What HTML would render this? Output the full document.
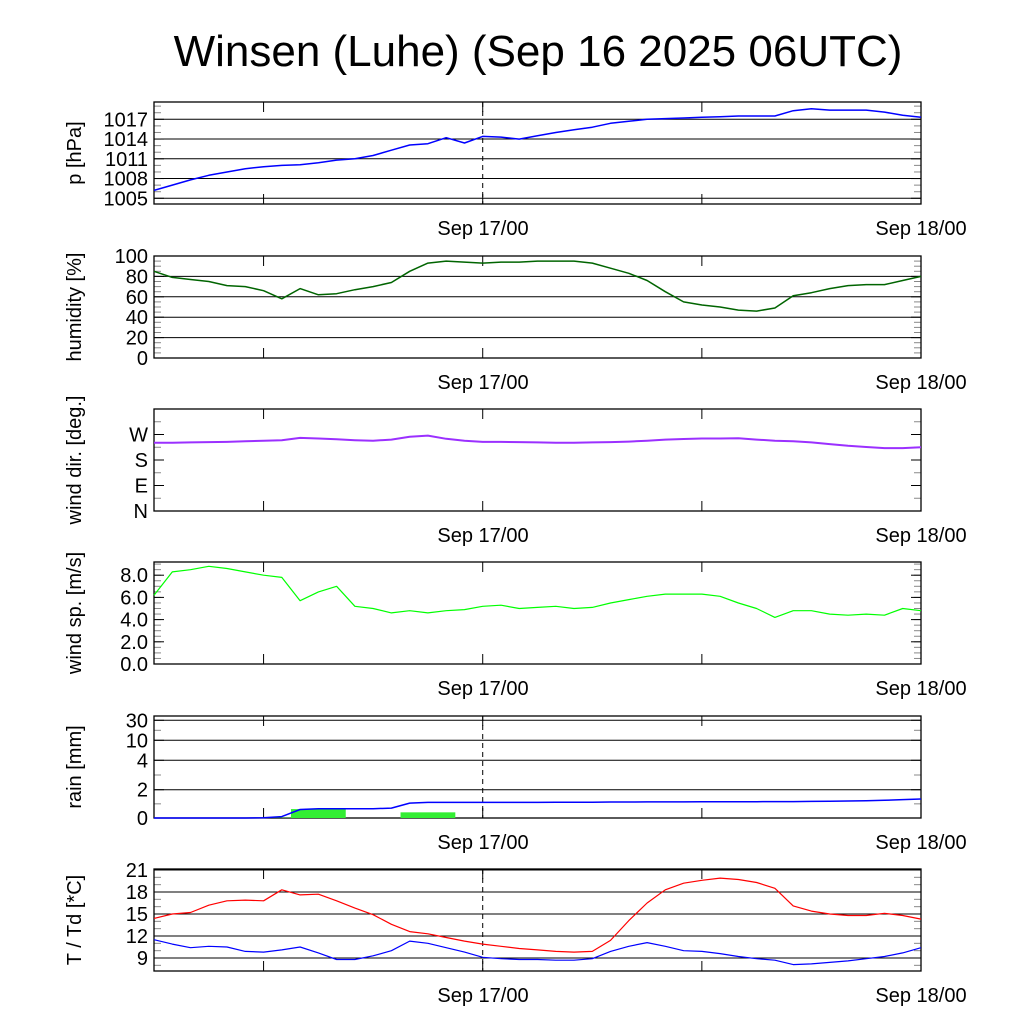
<!DOCTYPE html>
<html><head><meta charset="utf-8"><style>
body{margin:0;background:#fff;}
svg{display:block;font-family:"Liberation Sans",sans-serif;}
</style></head><body>
<svg id="c" width="1024" height="1024" viewBox="0 0 1024 1024">
<text x="538" y="66" font-size="44" text-anchor="middle">Winsen (Luhe) (Sep 16 2025 06UTC)</text>
</svg>
<script>
const hours=[0,1,2,3,4,5,6,7,8,9,10,11,12,13,14,15,16,17,18,19,20,21,22,23,24,25,26,27,28,29,30,31,32,33,34,35,36,37,38,39,40,41,42];
const pressure=[1006.2,1007,1007.8,1008.5,1009,1009.5,1009.8,1010,1010.1,1010.4,1010.8,1011,1011.5,1012.3,1013.1,1013.3,1014.2,1013.4,1014.4,1014.3,1014,1014.5,1015,1015.4,1015.8,1016.4,1016.7,1017,1017.1,1017.2,1017.3,1017.4,1017.5,1017.5,1017.5,1018.3,1018.6,1018.4,1018.4,1018.4,1018.1,1017.6,1017.3];
const humidity=[85,79,77,75,71,70,66,58,68,62,63,67,70,74,85,93,95,94,93,94,94,95,95,95,93,88,83,76,65,55,52,50,47,46,49,61,64,68,71,72,72,76,80];
const windDir=[241,241,242,243,244,246,248,250,258,256,253,250,248,252,262,266,255,248,244,244,243,242,241,241,242,243,245,248,252,254,256,256,257,252,248,246,242,236,230,226,222,222,225];
const windSpeed=[6.2,8.3,8.5,8.8,8.6,8.3,8.0,7.8,5.7,6.5,7.0,5.2,5.0,4.6,4.8,4.6,4.8,4.9,5.2,5.3,5.0,5.1,5.2,5.0,5.1,5.5,5.8,6.1,6.3,6.3,6.3,6.1,5.5,5.0,4.2,4.8,4.8,4.5,4.4,4.5,4.4,5.0,4.8];
const rainCum=[0,0,0,0,0,0,0.02,0.1,0.6,0.66,0.66,0.66,0.66,0.7,1.05,1.1,1.1,1.1,1.1,1.1,1.1,1.1,1.12,1.12,1.12,1.13,1.13,1.14,1.14,1.14,1.15,1.15,1.15,1.15,1.16,1.16,1.17,1.18,1.2,1.22,1.25,1.3,1.34];
const rainBinHours=[6,9,12,15];
const rainBinValues=[0.02,0.63,0,0.4];
const temperature=[14.4,15.0,15.2,16.2,16.8,16.9,16.8,18.3,17.6,17.7,16.8,15.8,14.9,13.6,12.6,12.3,11.8,11.3,10.9,10.6,10.3,10.1,9.9,9.8,9.9,11.4,14.1,16.5,18.3,19.2,19.6,19.9,19.7,19.3,18.5,16.1,15.4,15.0,14.8,14.8,15.1,14.8,14.3];
const dewpoint=[11.5,10.9,10.4,10.6,10.5,9.9,9.8,10.1,10.5,9.7,8.8,8.8,9.3,10.0,11.3,11.0,10.4,9.8,9.1,8.9,8.8,8.8,8.7,8.7,8.9,9.9,10.6,11.1,10.6,10.0,9.9,9.6,9.2,8.9,8.7,8.1,8.2,8.4,8.6,8.9,9.2,9.7,10.4];
const pTicks=[1005,1008,1011,1014,1017];
const hTicks=[0,20,40,60,80,100];
const dTicks=[0,90,180,270];const dLabels=["N","E","S","W"];
const sTicks=[0,2,4,6,8];
const rTicks=[0,2,4,10,30];
const tTicks=[9,12,15,18,21];

const NS="http://www.w3.org/2000/svg";
const svg=document.getElementById('c');
const X0=154,X1=921;
const xs=h=>X0+(X1-X0)*h/42;
function el(tag,attrs,parent){const e=document.createElementNS(NS,tag);for(const k in attrs)e.setAttribute(k,attrs[k]);(parent||svg).appendChild(e);return e;}
function lin(v0,y0,v1,y1){return v=>y0+(v-v0)*(y1-y0)/(v1-v0);}
const rainMap=[[0,818],[2,789.7],[4,760.3],[10,740.3],[30,720.3],[50,716]];
function ry(v){for(let i=0;i<rainMap.length-1;i++){const a=rainMap[i],b=rainMap[i+1];if(v<=b[0])return a[1]+(v-a[0])*(b[1]-a[1])/(b[0]-a[0]);}return 716;}

function panel(name,top,bot,yf,ticks,labels,minor,grid,title,dashed){
  const g=el('g',{});
  
  
  if(grid) ticks.forEach(t=>{const y=yf(t);const l=el('line',{x1:X0,x2:X1,y1:y,y2:y,stroke:'#000','stroke-width':1},g);
    });
  minor.forEach(t=>{const y=yf(t);el('line',{x1:X0,x2:X0+7,y1:y,y2:y,stroke:'#888','stroke-width':1},g);el('line',{x1:X1-7,x2:X1,y1:y,y2:y,stroke:'#888','stroke-width':1},g);});
  ticks.forEach((t,i)=>{const y=yf(t);
    el('line',{x1:X0,x2:X0+10,y1:y,y2:y,stroke:'#000'},g);el('line',{x1:X1-10,x2:X1,y1:y,y2:y,stroke:'#000'},g);
    const tx=el('text',{x:148,y:y+7,'font-size':20,'text-anchor':'end'},g);tx.textContent=labels?labels[i]:t;
    });
  [6,18,30].forEach(h=>{const x=xs(h);el('line',{x1:x,x2:x,y1:bot,y2:bot-10,stroke:'#000'},g);el('line',{x1:x,x2:x,y1:top,y2:top+10,stroke:'#000'},g);});
  if(dashed){const d=el('line',{x1:xs(18),x2:xs(18),y1:top,y2:bot,stroke:'#000','stroke-dasharray':'5,4'},g);
    }
  const r=el('rect',{x:X0,y:top,width:X1-X0,height:bot-top,fill:'none',stroke:'#000','stroke-width':1.3},g);
  
  const cy=(top+bot)/2;
  const tt=el('text',{x:0,y:0,'font-size':20,'text-anchor':'middle',transform:`translate(81,${cy}) rotate(-90)`},g);tt.textContent=title;
  
  [[483,'Sep 17/00'],[921,'Sep 18/00']].forEach(([x,s])=>{const t=el('text',{x:x,y:bot+31,'font-size':20,'text-anchor':'middle'},g);t.textContent=s;
    });
  return g;
}
function line(g,vals,yf,color,name,w){
  const p=el('polyline',{points:vals.map((v,i)=>xs(hours[i]).toFixed(1)+','+yf(v).toFixed(1)).join(' '),fill:'none',stroke:color,'stroke-width':w||1.5,'stroke-linejoin':'round'},g);
  
}
function range(a,b,s){const r=[];for(let v=a;v<=b+1e-9;v+=s)r.push(v);return r;}

let yf=lin(1017,119.3,1005,198.3);
let g=panel('pressure',102,204,yf,pTicks,null,range(1005,1019,1),true,'p [hPa]',true);
line(g,pressure,yf,'#0000ff','pressure-line');

yf=lin(0,358,100,256);
g=panel('humidity',256,358,yf,hTicks,null,range(0,100,5),true,'humidity [%]',false);
line(g,humidity,yf,'#006400','humidity-line');

yf=lin(0,511,360,409);
g=panel('wind-direction',409,511,yf,dTicks,dLabels,range(45,315,45),false,'wind dir. [deg.]',false);
line(g,windDir,yf,'#9b30ff','wind-direction-line',2);

yf=lin(0,664,8,575.2);
g=panel('wind-speed',562,664,yf,sTicks,['0.0','2.0','4.0','6.0','8.0'],range(0,9,0.5),false,'wind sp. [m/s]',false);
line(g,windSpeed,yf,'#00ff00','wind-speed-line',1.2);

g=panel('rain',716,818,ry,rTicks,null,[1,3,20],true,'rain [mm]',true);
rainBinValues.forEach((v,i)=>{if(v<=0)return;const x0=xs(rainBinHours[i]-1.5),x1=xs(rainBinHours[i]+1.5);
  const b=el('rect',{x:x0,y:ry(v),width:x1-x0,height:818-ry(v),fill:'#33ee33'},g);
  });
line(g,rainCum,ry,'#0000ff','rain-cumulative-line');

yf=lin(21,870,9,958);
g=panel('temperature',869,971,yf,tTicks,null,range(8,21,1),true,'T / Td [*C]',true);
line(g,temperature,yf,'#ff0000','temperature-line',1.2);
line(g,dewpoint,yf,'#0000ff','dewpoint-line',1.2);
</script>
</body></html>
